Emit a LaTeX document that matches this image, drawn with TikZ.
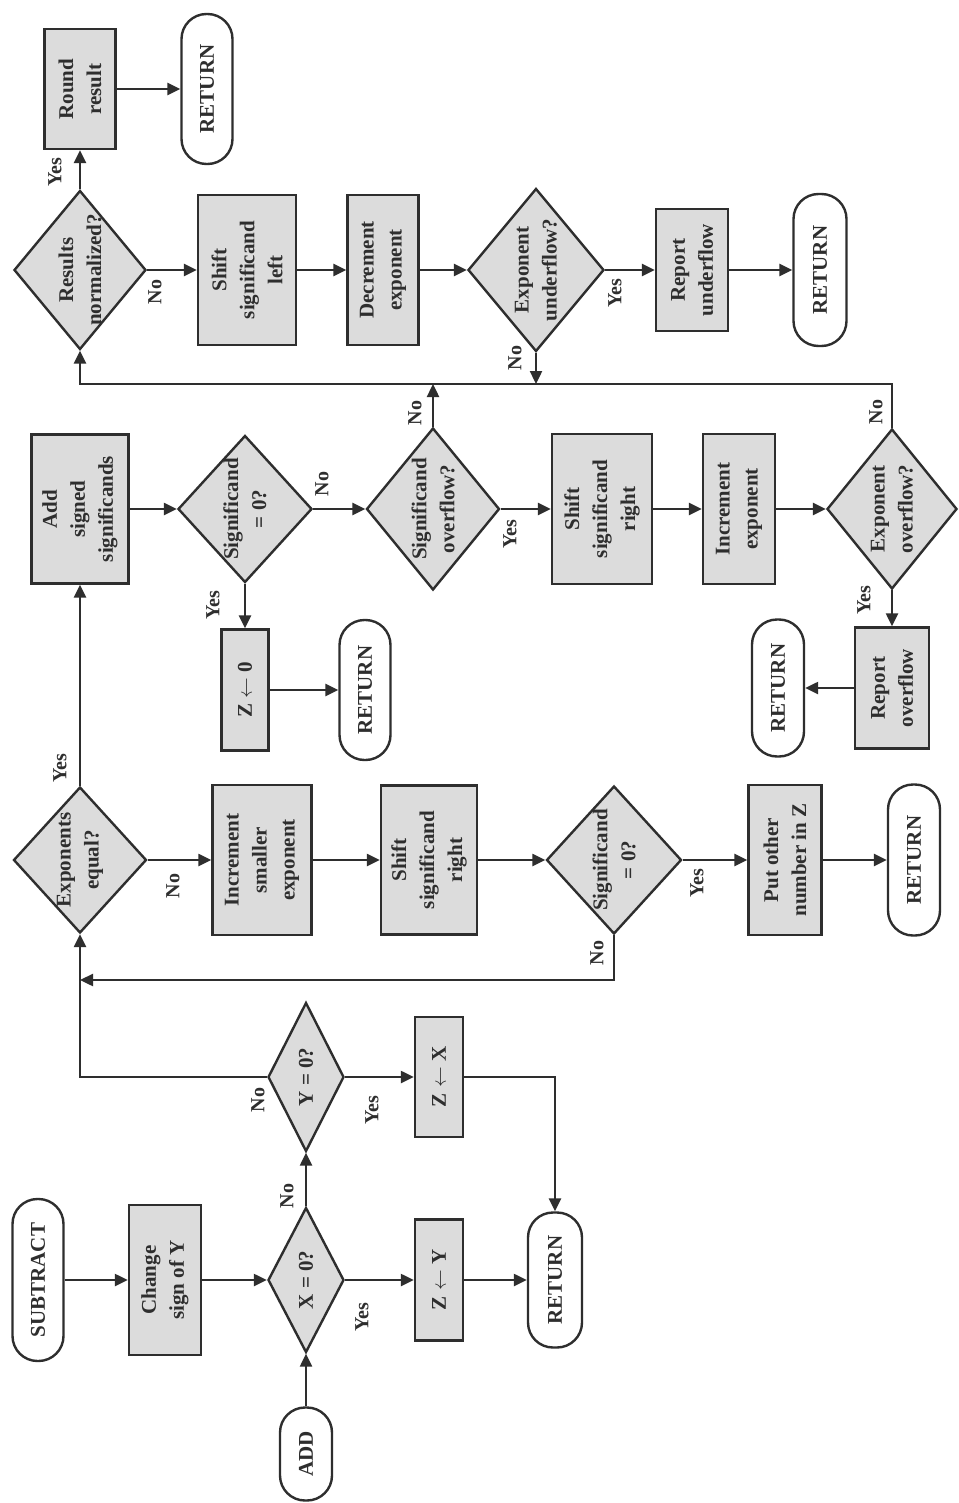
\documentclass[tikz,border=0pt]{standalone}
\usepackage{fontspec}
\setmainfont{Liberation Serif}
\usetikzlibrary{shapes.geometric,arrows.meta}
\definecolor{boxgray}{HTML}{DCDCDC}
\definecolor{ink}{HTML}{2E2E2E}
\tikzset{
  base/.style={draw=ink, line width=2.4pt, rotate=90, align=center, inner sep=0pt},
  box/.style={base, rectangle, fill=boxgray},
  term/.style={base, rectangle, rounded corners=25pt, fill=white},
  dec/.style={base, diamond, fill=boxgray, inner sep=-16pt},
  sz/.style 2 args={minimum height=#1, minimum width=#2},
  arr/.style={draw=ink, line width=2.4pt, -{Triangle[length=13pt,width=12pt]}},
  lab/.style={rotate=90, font=\fontsize{20}{24}\selectfont\bfseries}
}
\begin{document}
\begin{tikzpicture}[x=1pt,y=1pt,
  every node/.style={font=\fontsize{21}{28}\selectfont\bfseries, text=ink}]
\useasboundingbox (0,0) rectangle (958,-1503);
\fill[white] (0,0) rectangle (958,-1503);

% ---------- row 1 ----------
\node[box, sz={71}{120}] (round) at (80,-89) {Round\\result};
\node[term, sz={51}{150}] (ret1) at (207,-89) {RETURN};
\node[dec, sz={132}{159}] (resnorm) at (80,-270) {Results\\normalized?};
\node[box, sz={98}{150}] (shl) at (247,-270) {Shift\\significand\\left};
\node[box, sz={71}{150}] (decexp) at (383,-270) {Decrement\\exponent};
\node[dec, sz={136}{163}] (uflow) at (536,-270) {Exponent\\underflow?};
\node[box, sz={72}{122}] (repuf) at (692,-270) {Report\\underflow};
\node[term, sz={53}{152}] (ret2) at (820,-270) {RETURN};

% ---------- row 2 ----------
\node[box, sz={97}{149}] (add) at (80,-509) {Add\\signed\\significands};
\node[dec, sz={134}{147}] (sz0) at (245,-509) {Significand\\= 0?};
\node[box, sz={47}{121}] (z0) at (245,-690) {Z $\leftarrow$ 0};
\node[term, sz={51}{140}] (ret3) at (365,-690) {RETURN};
\node[dec, sz={133}{162}] (sovf) at (433,-509) {Significand\\overflow?};
\node[box, sz={100}{150}] (shr2) at (602,-509) {Shift\\significand\\right};
\node[box, sz={72}{150}] (incexp) at (739,-509) {Increment\\exponent};
\node[dec, sz={130}{160}] (eovf) at (892,-509) {Exponent\\overflow?};
\node[box, sz={74}{121}] (repov) at (892,-688) {Report\\overflow};
\node[term, sz={52}{137}] (ret4) at (778,-688) {RETURN};

% ---------- row 3 ----------
\node[dec, sz={133}{146}] (eeq) at (80,-860) {Exponents\\equal?};
\node[box, sz={99}{150}] (incsm) at (262,-860) {Increment\\smaller\\exponent};
\node[box, sz={96}{149}] (shr1) at (429,-860) {Shift\\significand\\right};
\node[dec, sz={135}{148}] (sz1) at (614,-860) {Significand\\= 0?};
\node[box, sz={73}{150}] (putz) at (785,-860) {Put other\\number in Z};
\node[term, sz={52}{151}] (ret5) at (914,-860) {RETURN};

% ---------- row 4 ----------
\node[dec, sz={76}{149}] (yz) at (306,-1077) {Y = 0?};
\node[box, sz={48}{120}] (zx) at (439,-1077) {Z $\leftarrow$ X};
\node[term, sz={51}{162}] (sub) at (38,-1280) {SUBTRACT};
\node[box, sz={72}{150}] (chg) at (165,-1280) {Change\\sign of Y};
\node[dec, sz={76}{145}] (xz) at (306,-1280) {X = 0?};
\node[box, sz={48}{121}] (zy) at (439,-1280) {Z $\leftarrow$ Y};
\node[term, sz={54}{135}] (ret6) at (555,-1280) {RETURN};
\node[term, sz={52}{93}] (addn) at (306,-1454) {ADD};

% ---------- junctions ----------
\coordinate (busL) at (80,-384);
\coordinate (j1) at (80,-980);
\coordinate (j2) at (80,-1077);

% ---------- connectors ----------
\draw[arr] (round) -- (ret1);
\draw[arr] (resnorm) -- (round);
\draw[arr] (resnorm) -- (shl);
\draw[arr] (shl) -- (decexp);
\draw[arr] (decexp) -- (uflow);
\draw[arr] (uflow) -- (repuf);
\draw[arr] (repuf) -- (ret2);
\draw[arr] (uflow) -- (uflow |- busL);
\draw[arr] (eovf) -- (eovf |- busL) -- (busL) -- (resnorm);
\draw[arr] (sovf) -- (sovf |- busL);

\draw[arr] (add) -- (sz0);
\draw[arr] (sz0) -- (z0);
\draw[arr] (z0) -- (ret3);
\draw[arr] (sz0) -- (sovf);
\draw[arr] (sovf) -- (shr2);
\draw[arr] (shr2) -- (incexp);
\draw[arr] (incexp) -- (eovf);
\draw[arr] (eovf) -- (repov);
\draw[arr] (repov) -- (ret4);

\draw[arr] (eeq) -- (add);
\draw[arr] (eeq) -- (incsm);
\draw[arr] (incsm) -- (shr1);
\draw[arr] (shr1) -- (sz1);
\draw[arr] (sz1) -- (putz);
\draw[arr] (putz) -- (ret5);
\draw[arr] (sz1) -- (sz1 |- j1) -- (j1);

\draw[arr] (yz) -- (j2) -- (eeq);
\draw[arr] (yz) -- (zx);
\draw[arr] (zx) -- (zx -| ret6) -- (ret6);
\draw[arr] (sub) -- (chg);
\draw[arr] (chg) -- (xz);
\draw[arr] (xz) -- (zy);
\draw[arr] (zy) -- (ret6);
\draw[arr] (xz) -- (yz);
\draw[arr] (addn) -- (xz);

% ---------- labels ----------
\node[lab] (l1) at (55,-172) {Yes};
\node[lab] (l2) at (155,-292) {No};
\node[lab] (l3) at (615,-293) {Yes};
\node[lab] (l4) at (515,-358) {No};
\node[lab] (l5) at (415,-413) {No};
\node[lab] (l6) at (213,-605) {Yes};
\node[lab] (l7) at (322,-484) {No};
\node[lab] (l8) at (510,-534) {Yes};
\node[lab] (l9) at (864,-600) {Yes};
\node[lab] (l10) at (876,-412) {No};
\node[lab] (l11) at (60,-768) {Yes};
\node[lab] (l12) at (173,-886) {No};
\node[lab] (l13) at (697,-883) {Yes};
\node[lab] (l14) at (597,-953) {No};
\node[lab] (l15) at (258,-1100) {No};
\node[lab] (l16) at (372,-1110) {Yes};
\node[lab] (l17) at (287,-1196) {No};
\node[lab] (l18) at (362,-1317) {Yes};
\end{tikzpicture}
\end{document}
